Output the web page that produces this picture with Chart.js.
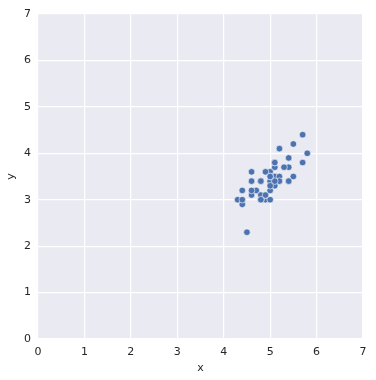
<!DOCTYPE html>
<html><head><meta charset="utf-8">
<script src="https://cdn.jsdelivr.net/npm/chart.js@4"></script>
<style>html,body{margin:0;padding:0;background:#fff}#wrap{width:376px;height:380px}</style>
</head><body><div id="wrap"><canvas id="c" width="376" height="380"></canvas></div>
<script>
const xValues = [5.1,4.9,4.7,4.6,5.0,5.4,4.6,5.0,4.4,4.9,5.4,4.8,4.8,4.3,5.8,5.7,5.4,5.1,5.7,5.1,5.4,5.1,4.6,5.1,4.8,5.0,5.0,5.2,5.2,4.7,4.8,5.4,5.2,5.5,4.9,5.0,5.5,4.9,4.4,5.1,5.0,4.5,4.4,5.0,5.1,4.8,5.1,4.6,5.3,5.0];
const yValues = [3.5,3.0,3.2,3.1,3.6,3.9,3.4,3.4,2.9,3.1,3.7,3.4,3.0,3.0,4.0,4.4,3.9,3.5,3.8,3.8,3.4,3.7,3.6,3.3,3.4,3.0,3.4,3.5,3.4,3.2,3.1,3.4,4.1,4.2,3.1,3.2,3.5,3.6,3.0,3.4,3.5,2.3,3.2,3.5,3.8,3.0,3.8,3.2,3.7,3.3];
const tickValues = [0,1,2,3,4,5,6,7];

const points = xValues.map((x,i)=>({x:x,y:yValues[i]}));
const bgPlugin = {
  id:'bg',
  beforeDraw(chart){
    const {ctx, chartArea:a} = chart;
    ctx.save(); ctx.fillStyle='#EAEAF2';
    ctx.fillRect(a.left,a.top,a.right-a.left,a.bottom-a.top);
    ctx.restore();
  }
};
const font = {family:'DejaVu Sans', size:11};
const tickCfg = {color:'#262626', font:font, padding:7, stepSize:1,
  callback:(v)=> tickValues.includes(v) ? String(v) : ''};
new Chart(document.getElementById('c'), {
  type:'scatter',
  data:{datasets:[{data:points, backgroundColor:'#4C72B0', borderColor:'#ffffff', borderWidth:0.6, pointRadius:3.3, pointHoverRadius:3.3}]},
  options:{
    responsive:false, animation:false, devicePixelRatio:1,
    layout:{padding:{left:0,top:14,right:13,bottom:0}},
    plugins:{legend:{display:false}, tooltip:{enabled:false}},
    scales:{
      x:{type:'linear', min:0, max:7, grid:{color:'#ffffff', lineWidth:1.2, drawTicks:false}, border:{display:false},
         ticks:tickCfg,
         title:{display:true, text:'x', color:'#262626', font:font, padding:{top:3,bottom:5}},
         afterFit(s){ s.height = 41; }},
      y:{type:'linear', min:0, max:7, grid:{color:'#ffffff', lineWidth:1.2, drawTicks:false}, border:{display:false},
         ticks:tickCfg,
         title:{display:true, text:'y', color:'#262626', font:font, padding:{top:5,bottom:4}},
         afterFit(s){ s.width = 38; }}
    }
  },
  plugins:[bgPlugin]
});
</script></body></html>
